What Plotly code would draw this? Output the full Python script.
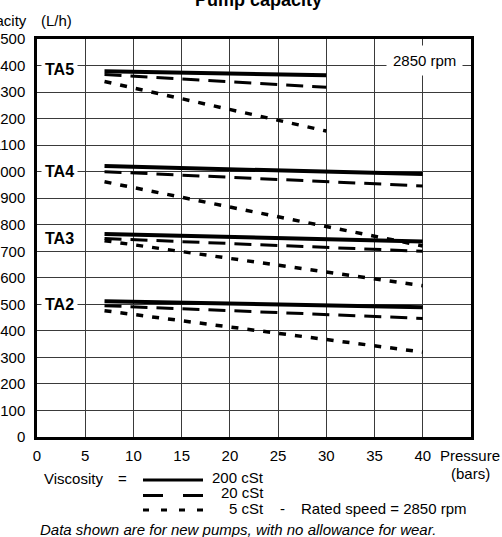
import plotly.graph_objects as go

FONT = "Liberation Sans, Arial, Helvetica, sans-serif"

# pressure (bars)
pressure_ta5 = [7, 30]
pressure = [7, 40]

# capacity (L/h) at the first and last pressure, per model and viscosity
ta5_200 = [1378, 1363]
ta5_20 = [1366, 1318]
ta5_5 = [1340, 1153]
ta4_200 = [1021, 991]
ta4_20 = [1000, 946]
ta4_5 = [962, 720]
ta3_200 = [765, 737]
ta3_20 = [748, 700]
ta3_5 = [740, 570]
ta2_200 = [512, 489]
ta2_20 = [495, 447]
ta2_5 = [476, 320]

models = ["TA5", "TA4", "TA3", "TA2"]
model_label_y = [1385, 1000, 750, 500]
x_ticks = [0, 5, 10, 15, 20, 25, 30, 35, 40]
y_ticks = list(range(0, 1600, 100))

# plot area in pixels
W, H = 502, 537
L, T, PW, PH = 37, 39, 434, 398


def px(x):
    return (x - L) / PW


def py(y):
    return (T + PH - y) / PH


STYLES = {
    "200": dict(color="black", width=4),
    "20": dict(color="black", width=3, dash="17px,9px"),
    "5": dict(color="black", width=3.5, dash="7px,9px"),
}

series = [
    (pressure_ta5, ta5_200, "200"), (pressure_ta5, ta5_20, "20"), (pressure_ta5, ta5_5, "5"),
    (pressure, ta4_200, "200"), (pressure, ta4_20, "20"), (pressure, ta4_5, "5"),
    (pressure, ta3_200, "200"), (pressure, ta3_20, "20"), (pressure, ta3_5, "5"),
    (pressure, ta2_200, "200"), (pressure, ta2_20, "20"), (pressure, ta2_5, "5"),
]

fig = go.Figure()
for xs, ys, visc in series:
    fig.add_trace(go.Scatter(x=xs, y=ys, mode="lines", line=STYLES[visc], showlegend=False, hoverinfo="skip"))

annotations = []
for name, yv in zip(models, model_label_y):
    annotations.append(dict(x=2.3, y=yv, xref="x", yref="y", text=f"<b>{name}</b>", showarrow=False,
                            font=dict(size=16, color="black"), bgcolor="white", borderpad=3))
annotations.append(dict(x=40.2, y=1418, xref="x", yref="y", text="2850 rpm", showarrow=False,
                        font=dict(size=15, color="black"), bgcolor="white", borderpad=6))

texts = [
    ("<b>Pump capacity</b>", 258, 0, "center", 18),
    ("Capacity", 29, 21, "right", 15),
    ("(L/h)", 56, 21, "center", 15),
    ("Pressure", 470, 455, "center", 15),
    ("(bars)", 470, 473, "center", 15),
    ("Viscosity", 42, 478, "left", 15),
    ("=", 122, 478, "center", 15),
    ("200 cSt", 266, 477, "right", 15),
    ("20 cSt", 266, 492, "right", 15),
    ("5 cSt", 266, 509, "right", 15),
    ("-", 282, 509, "center", 15),
    ("Rated speed = 2850 rpm", 299, 509, "left", 15),
    ("<i>Data shown are for new pumps, with no allowance for wear.</i>", 238, 529, "center", 15),
]
for text, x, y, anchor, size in texts:
    annotations.append(dict(x=px(x), y=py(y), xref="paper", yref="paper", text=text, showarrow=False,
                            xanchor=anchor, yanchor="middle", font=dict(size=size, color="black")))

# legend keys for the viscosity styles
shapes = [
    dict(type="line", xref="paper", yref="paper", x0=px(143), x1=px(203), y0=py(480), y1=py(480),
         line=dict(color="black", width=3)),
    dict(type="line", xref="paper", yref="paper", x0=px(143), x1=px(203), y0=py(495.5), y1=py(495.5),
         line=dict(color="black", width=3, dash="20px,20px")),
    dict(type="line", xref="paper", yref="paper", x0=px(143), x1=px(203), y0=py(510), y1=py(510),
         line=dict(color="black", width=3, dash="6px,12px")),
]

fig.update_layout(
    width=W,
    height=H,
    margin=dict(l=L, r=W - L - PW, t=T, b=H - T - PH, pad=0),
    paper_bgcolor="white",
    plot_bgcolor="white",
    font=dict(family=FONT, size=15, color="black"),
    annotations=annotations,
    shapes=shapes,
    showlegend=False,
)
fig.update_xaxes(
    range=[0, 45], tickvals=x_ticks, showgrid=True, gridcolor="#3a3a3a", gridwidth=1.2,
    showline=True, linecolor="black", linewidth=2.5, mirror=True, zeroline=False,
    ticks="", ticklabelstandoff=3, automargin=False, tickfont=dict(size=15),
)
fig.update_yaxes(
    range=[0, 1500], tickvals=y_ticks, showgrid=True, gridcolor="#3a3a3a", gridwidth=1.2,
    showline=True, linecolor="black", linewidth=2.5, mirror=True, zeroline=False,
    ticks="", ticklabelstandoff=6, automargin=False, tickfont=dict(size=15),
)

fig.write_html(
    "out.html",
    config={"displayModeBar": False},
    post_script="document.body.style.margin='0';document.body.style.overflow='hidden';",
)
